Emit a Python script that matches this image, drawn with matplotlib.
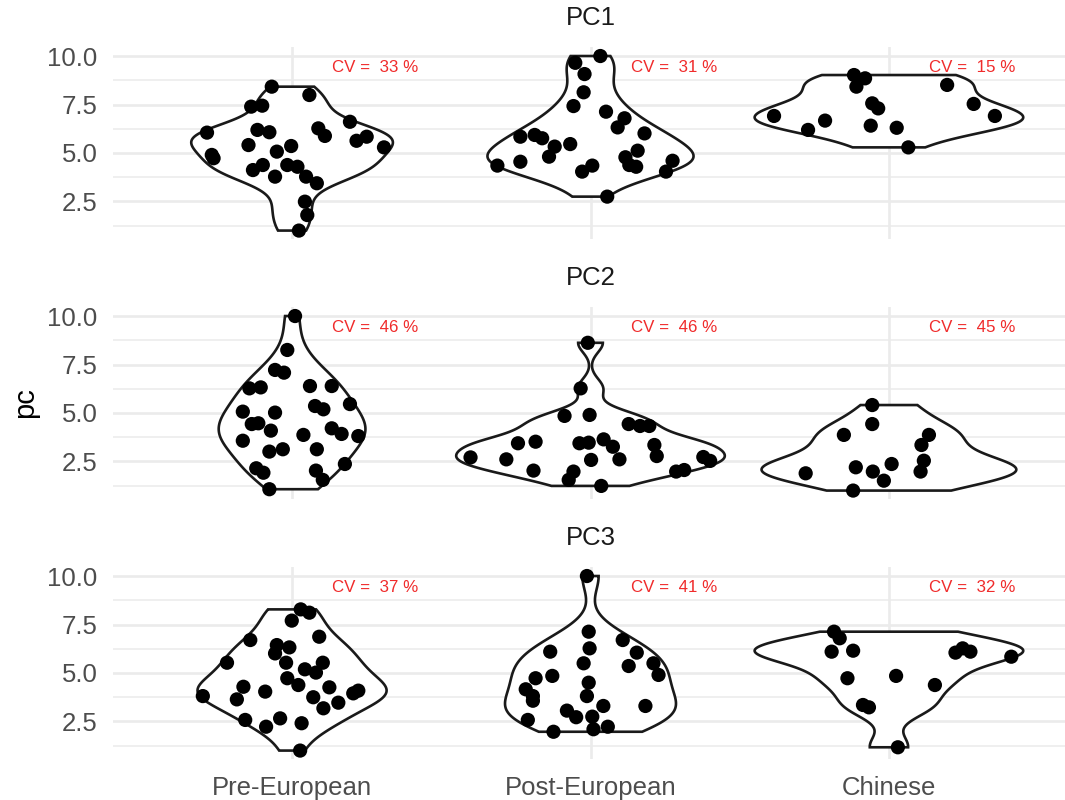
import numpy as np
import matplotlib
matplotlib.use("Agg")
import matplotlib.pyplot as plt

plt.rcParams['font.family'] = ['Liberation Sans', 'DejaVu Sans']

categories = ['Pre-European', 'Post-European', 'Chinese']
panels = ['PC1', 'PC2', 'PC3']
y_ticks = [2.5, 5.0, 7.5, 10.0]
y_tick_labels = ['2.5', '5.0', '7.5', '10.0']

# ---- PC1 ----
pc1_pre = [8.42, 7.99, 7.39, 7.44, 6.05, 6.19, 6.07, 6.27, 5.88, 6.61, 5.63, 5.84, 5.29, 5.41,
           4.90, 4.73, 5.07, 5.36, 4.12, 4.38, 3.78, 4.38, 4.29, 3.78, 3.44, 2.49, 1.80, 1.00]
pc1_pre_jit = [-0.068, 0.058, -0.137, -0.10, -0.285, -0.116, -0.076, 0.088, 0.11, 0.194, 0.216, 0.25,
               0.308, -0.146, -0.269, -0.263, -0.051, -0.003, -0.131, -0.098, -0.057, -0.016, 0.018,
               0.047, 0.083, 0.043, 0.051, 0.023]
pc1_post = [10.0, 9.65, 9.07, 8.13, 7.42, 7.13, 6.79, 6.32, 6.01, 5.84, 5.93, 5.76, 5.33, 4.81,
            5.46, 5.12, 4.78, 4.38, 4.29, 4.55, 4.35, 4.04, 4.35, 4.60, 4.04, 2.75]
pc1_post_jit = [0.033, -0.051, -0.02, -0.023, -0.057, 0.052, 0.114, 0.091, 0.181, -0.235, -0.187,
                -0.162, -0.12, -0.139, -0.068, 0.158, 0.117, 0.13, 0.153, -0.235, -0.312, -0.028,
                0.006, 0.275, 0.253, 0.056]
pc1_chi = [9.02, 8.85, 8.42, 8.51, 7.56, 7.30, 7.53, 6.91, 6.91, 6.67, 6.19, 6.41, 6.30, 5.29]
pc1_chi_jit = [-0.117, -0.08, -0.109, 0.195, -0.056, -0.036, 0.284, 0.355, -0.385, -0.214, -0.271,
               -0.061, 0.026, 0.065]

# ---- PC2 ----
pc2_pre = [10.0, 8.25, 7.22, 7.08, 6.27, 6.32, 6.39, 6.39, 5.46, 5.36, 5.19, 5.07, 5.02, 4.43,
           4.47, 4.09, 3.87, 4.21, 3.92, 3.81, 3.57, 3.01, 3.13, 3.13, 2.37, 2.15, 1.92, 2.03, 1.55, 1.07]
pc2_pre_jit = [0.01, -0.016, -0.057, -0.027, -0.143, -0.105, 0.06, 0.133, 0.194, 0.077, 0.105,
               -0.165, -0.057, -0.135, -0.113, -0.071, 0.038, 0.133, 0.166, 0.222, -0.165, -0.076,
               -0.031, 0.083, 0.177, -0.12, -0.096, 0.08, 0.103, -0.076]
pc2_post = [8.62, 6.27, 4.85, 4.90, 4.43, 4.33, 4.33, 3.44, 3.52, 3.44, 3.47, 3.64, 3.26, 3.35,
            2.78, 2.71, 2.61, 2.58, 2.61, 2.03, 1.98, 1.55, 1.24, 1.98, 2.06, 2.73, 2.53]
pc2_post_jit = [-0.009, -0.033, -0.087, -0.003, 0.128, 0.166, 0.197, -0.243, -0.184, -0.037, -0.006,
                0.044, 0.075, 0.214, 0.222, -0.402, -0.282, 0.002, 0.097, -0.191, -0.057, -0.073,
                0.036, 0.287, 0.314, 0.378, 0.401]
pc2_chi = [5.41, 4.43, 3.87, 3.87, 3.35, 2.54, 1.98, 2.20, 2.37, 1.98, 1.51, 1.89, 1.00]
pc2_chi_jit = [-0.056, -0.056, -0.151, 0.134, 0.109, 0.117, 0.106, -0.111, 0.009, -0.054, -0.017,
               -0.279, -0.12]

# ---- PC3 ----
pc3_pre = [8.28, 8.11, 7.70, 6.87, 6.70, 6.44, 6.32, 6.01, 5.53, 5.53, 5.53, 5.19, 5.02, 4.73,
           4.38, 4.29, 4.26, 4.09, 3.95, 4.04, 3.81, 3.64, 3.75, 3.18, 3.47, 2.58, 2.23, 2.66, 2.41, 1.00]
pc3_pre_jit = [0.029, 0.058, -0.001, 0.091, -0.14, -0.051, -0.009, -0.057, -0.218, -0.02, 0.103,
               0.043, 0.08, -0.016, 0.021, -0.163, 0.125, 0.222, 0.205, -0.09, -0.299, -0.185, 0.071,
               0.105, 0.155, -0.157, -0.087, -0.04, 0.032, 0.027]
pc3_post = [10.0, 7.13, 6.27, 6.70, 6.05, 6.10, 5.50, 5.36, 5.50, 4.90, 4.73, 4.85, 4.50, 4.16,
            3.81, 3.57, 3.81, 3.30, 3.30, 3.06, 2.72, 2.75, 2.58, 1.97, 2.10, 2.23]
pc3_post_jit = [-0.012, -0.006, -0.003, 0.108, 0.155, -0.135, -0.023, 0.128, 0.211, 0.228, -0.184,
                -0.128, -0.006, -0.217, -0.193, -0.193, -0.012, 0.184, 0.043, -0.079, -0.048, 0.006,
                -0.21, -0.124, 0.01, 0.058]
pc3_chi = [7.13, 6.79, 6.10, 6.15, 6.05, 6.27, 6.10, 5.84, 4.73, 4.85, 4.38, 3.35, 3.23, 1.17]
pc3_chi_jit = [-0.184, -0.165, -0.192, -0.12, 0.223, 0.247, 0.273, 0.41, -0.139, 0.024, 0.154,
               -0.087, -0.067, 0.03]

cv_values = [[33, 31, 15], [46, 46, 45], [37, 41, 32]]

panel_data = [
    [(pc1_pre, pc1_pre_jit), (pc1_post, pc1_post_jit), (pc1_chi, pc1_chi_jit)],
    [(pc2_pre, pc2_pre_jit), (pc2_post, pc2_post_jit), (pc2_chi, pc2_chi_jit)],
    [(pc3_pre, pc3_pre_jit), (pc3_post, pc3_post_jit), (pc3_chi, pc3_chi_jit)],
]


def nrd0(x):
    x = np.asarray(x, float)
    sd = np.std(x, ddof=1)
    q75, q25 = np.percentile(x, [75, 25])
    lo = min(sd, (q75 - q25) / 1.34)
    if lo <= 0:
        lo = sd
    return 0.9 * lo * len(x) ** (-0.2)


def kde(x, grid):
    x = np.asarray(x, float)
    bw = nrd0(x)
    z = (grid[:, None] - x[None, :]) / bw
    return np.exp(-0.5 * z ** 2).sum(axis=1) / (len(x) * bw * np.sqrt(2 * np.pi))


W, H = 1065, 800
fig = plt.figure(figsize=(W / 100, H / 100), dpi=100)

left_px, right_px = 113, 1068
panel_tops = [47.3, 307.3, 567.3]
panel_h = 192.0

grid_col = '#EBEBEB'
red = '#F02B2B'

for pi, (pname, groups) in enumerate(zip(panels, panel_data)):
    top = panel_tops[pi]
    ax = fig.add_axes([left_px / W, 1 - (top + panel_h) / H, (right_px - left_px) / W, panel_h / H])
    ax.set_xlim(0.4, 3.6)
    ax.set_ylim(0.55, 10.45)
    for s in ax.spines.values():
        s.set_visible(False)
    ax.set_facecolor('white')

    # grid
    for yv in [1.25, 3.75, 6.25, 8.75]:
        ax.axhline(yv, color=grid_col, lw=1.1, zorder=0)
    for yv in y_ticks:
        ax.axhline(yv, color=grid_col, lw=1.9, zorder=0)
    for xi in range(1, 4):
        ax.axvline(xi, color=grid_col, lw=1.9, zorder=0)

    # violins (scale = area within panel)
    dens = []
    for vals, _ in groups:
        g = np.linspace(min(vals), max(vals), 512)
        dens.append((g, kde(vals, g)))
    dmax = max(d.max() for _, d in dens)
    for gi, ((g, d), (vals, jit)) in enumerate(zip(dens, groups)):
        xc = gi + 1
        hw = 0.45 * d / dmax
        xs = np.concatenate([xc - hw, (xc + hw)[::-1], [xc - hw[0]]])
        ys = np.concatenate([g, g[::-1], [g[0]]])
        ax.fill(xs, ys, facecolor='white', edgecolor='#1A1A1A', lw=1.9, zorder=2)
        ax.scatter(xc + np.asarray(jit), vals, s=105, color='black', edgecolors='none', zorder=3)
        ax.text(xc + 0.28, 9.43, f'CV =  {cv_values[pi][gi]} %', color=red, fontsize=12.2,
                ha='center', va='center', zorder=4)

    ax.set_yticks(y_ticks)
    ax.set_yticklabels(y_tick_labels)
    ax.set_xticks([1, 2, 3])
    if pi == 2:
        ax.set_xticklabels(categories)
    else:
        ax.set_xticklabels([])
    ax.tick_params(axis='both', length=0, labelsize=18.5, colors='#4D4D4D')
    ax.tick_params(axis='y', pad=11)
    ax.tick_params(axis='x', pad=12)
    for lab in ax.get_xticklabels() + ax.get_yticklabels():
        lab.set_color('#4D4D4D')
    ax.text(0.5, 1 + 29 / panel_h, pname, transform=ax.transAxes, ha='center', va='center',
            fontsize=18.5, color='#1A1A1A')

fig.text(25 / W, 1 - 403 / H, 'pc', rotation=90, ha='center', va='center', fontsize=21, color='black')

fig.savefig('out.png', dpi=100, facecolor='white')
